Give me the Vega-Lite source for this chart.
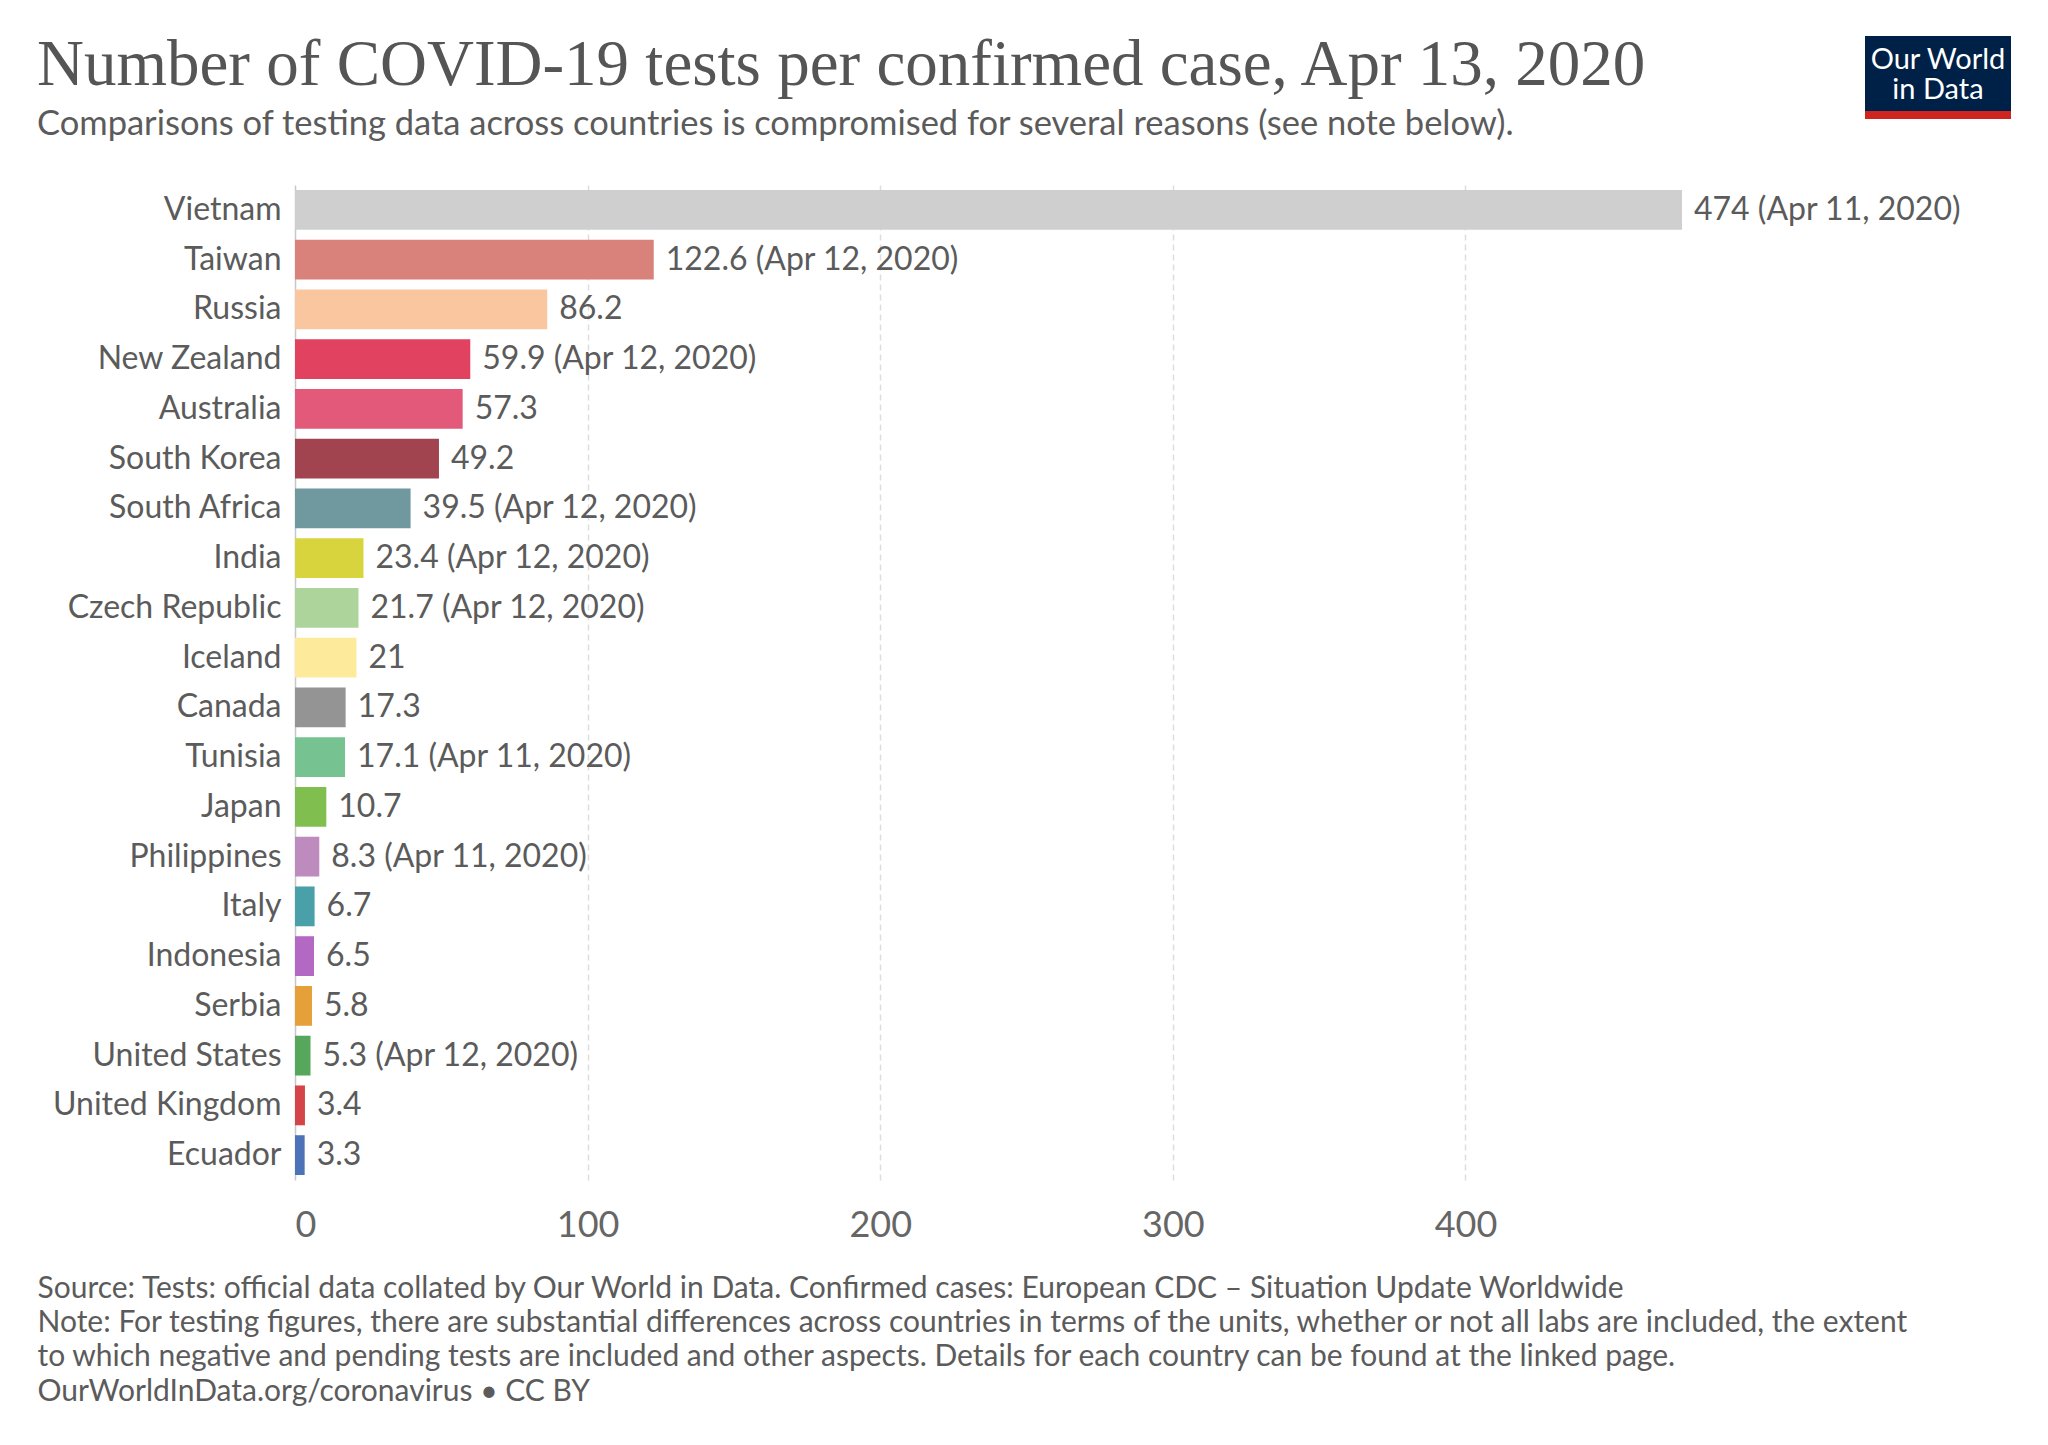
{
  "$schema": "https://vega.github.io/schema/vega-lite/v6.json",
  "background": "white",
  "padding": {"left": 37, "top": 32, "right": 37, "bottom": 30},
  "config": {
    "font": "Lato",
    "view": {"stroke": null},
    "axis": {"labelFont": "Lato", "titleFont": "Lato"}
  },
  "datasets": {
    "tests": [
      {"country": "Vietnam", "value": 474, "label": "474 (Apr 11, 2020)"},
      {"country": "Taiwan", "value": 122.6, "label": "122.6 (Apr 12, 2020)"},
      {"country": "Russia", "value": 86.2, "label": "86.2"},
      {"country": "New Zealand", "value": 59.9, "label": "59.9 (Apr 12, 2020)"},
      {"country": "Australia", "value": 57.3, "label": "57.3"},
      {"country": "South Korea", "value": 49.2, "label": "49.2"},
      {"country": "South Africa", "value": 39.5, "label": "39.5 (Apr 12, 2020)"},
      {"country": "India", "value": 23.4, "label": "23.4 (Apr 12, 2020)"},
      {"country": "Czech Republic", "value": 21.7, "label": "21.7 (Apr 12, 2020)"},
      {"country": "Iceland", "value": 21, "label": "21"},
      {"country": "Canada", "value": 17.3, "label": "17.3"},
      {"country": "Tunisia", "value": 17.1, "label": "17.1 (Apr 11, 2020)"},
      {"country": "Japan", "value": 10.7, "label": "10.7"},
      {"country": "Philippines", "value": 8.3, "label": "8.3 (Apr 11, 2020)"},
      {"country": "Italy", "value": 6.7, "label": "6.7"},
      {"country": "Indonesia", "value": 6.5, "label": "6.5"},
      {"country": "Serbia", "value": 5.8, "label": "5.8"},
      {"country": "United States", "value": 5.3, "label": "5.3 (Apr 12, 2020)"},
      {"country": "United Kingdom", "value": 3.4, "label": "3.4"},
      {"country": "Ecuador", "value": 3.3, "label": "3.3"}
    ],
    "logo": [{"text": ["Our World", "in Data"]}]
  },
  "bounds": "flush",
  "spacing": 149,
  "vconcat": [
    {
      "bounds": "flush",
      "spacing": 0,
      "hconcat": [
        {
          "width": 1570,
          "height": 83,
          "data": {"values": []},
          "mark": {"type": "text"},
          "encoding": {}
        },
        {
          "spacing": 0,
          "vconcat": [
            {
              "width": 146,
              "height": 75,
              "view": {"fill": "#002147", "stroke": null},
              "data": {"name": "logo"},
              "mark": {"type": "text", "font": "Lato", "fontSize": 29, "lineHeight": 30, "dy": -14, "color": "white", "align": "center", "baseline": "middle"},
              "encoding": {"text": {"field": "text"}}
            },
            {
              "width": 146,
              "height": 8,
              "view": {"fill": "#ce261e", "stroke": null},
              "data": {"values": []},
              "mark": {"type": "text"},
              "encoding": {}
            }
          ]
        }
      ]
    },
    {
      "title": {
        "text": "Number of COVID-19 tests per confirmed case, Apr 13, 2020",
        "subtitle": "Comparisons of testing data across countries is compromised for several reasons (see note below).",
        "anchor": "start",
        "frame": "bounds",
        "font": "Liberation Serif",
        "fontSize": 65,
        "fontWeight": "normal",
        "color": "#555555",
        "subtitleFont": "Lato",
        "subtitleFontSize": 34.5,
        "subtitleColor": "#5b5b5b",
        "subtitlePadding": 9,
        "offset": 43
      },
      "width": 1387,
      "height": 995,
      "data": {"name": "tests"},
      "encoding": {
        "y": {
          "field": "country",
          "type": "nominal",
          "sort": null,
          "scale": {"paddingInner": 0.2, "paddingOuter": 0.1},
          "axis": {
            "title": null,
            "ticks": false,
            "domain": false,
            "grid": false,
            "labelFontSize": 32,
            "labelColor": "#5b5b5b",
            "labelPadding": 14,
            "labelLimit": 400
          }
        },
        "x": {
          "field": "value",
          "type": "quantitative",
          "scale": {"domain": [0, 474], "nice": false},
          "axis": {
            "values": [0, 100, 200, 300, 400],
            "ticks": false,
            "domain": false,
            "grid": true,
            "gridColor": {"condition": {"test": "datum.value === 0", "value": "#c8c8c8"}, "value": "#dddddd"},
            "gridDash": {"condition": {"test": "datum.value === 0", "value": []}, "value": [6, 4]},
            "gridWidth": 1.5,
            "labelFontSize": 36,
            "labelColor": "#666666",
            "labelPadding": 28,
            "title": [
              "Source: Tests: official data collated by Our World in Data. Confirmed cases: European CDC – Situation Update Worldwide",
              "Note: For testing figures, there are substantial differences across countries in terms of the units, whether or not all labs are included, the extent",
              "to which negative and pending tests are included and other aspects. Details for each country can be found at the linked page.",
              "OurWorldInData.org/coronavirus • CC BY"
            ],
            "titleFontSize": 30,
            "titleFontWeight": "normal",
            "titleColor": "#5b5b5b",
            "titleLineHeight": 34.4,
            "titleAlign": "left",
            "titleAnchor": "start",
            "titleBaseline": "alphabetic",
            "titleX": -258,
            "titleY": 117,
            "titleLimit": 3000
          }
        }
      },
      "layer": [
        {
          "mark": {"type": "bar"},
          "encoding": {
            "color": {
              "field": "country",
              "type": "nominal",
              "legend": null,
              "scale": {
                "domain": ["Vietnam", "Taiwan", "Russia", "New Zealand", "Australia", "South Korea", "South Africa", "India", "Czech Republic", "Iceland", "Canada", "Tunisia", "Japan", "Philippines", "Italy", "Indonesia", "Serbia", "United States", "United Kingdom", "Ecuador"],
                "range": ["#cfcfcf", "#d9827b", "#f9c69f", "#e0425f", "#e35979", "#a1444f", "#70989f", "#d8d43e", "#acd49b", "#fdeb9b", "#949494", "#76c291", "#80be50", "#bd8bbd", "#4aa0a8", "#b368c3", "#e5a03a", "#56a75b", "#d54448", "#4c72b8"]
              }
            }
          }
        },
        {
          "mark": {"type": "text", "align": "left", "baseline": "middle", "dx": 12, "fontSize": 32, "color": "#5b5b5b"},
          "encoding": {"text": {"field": "label"}}
        }
      ]
    }
  ]
}
